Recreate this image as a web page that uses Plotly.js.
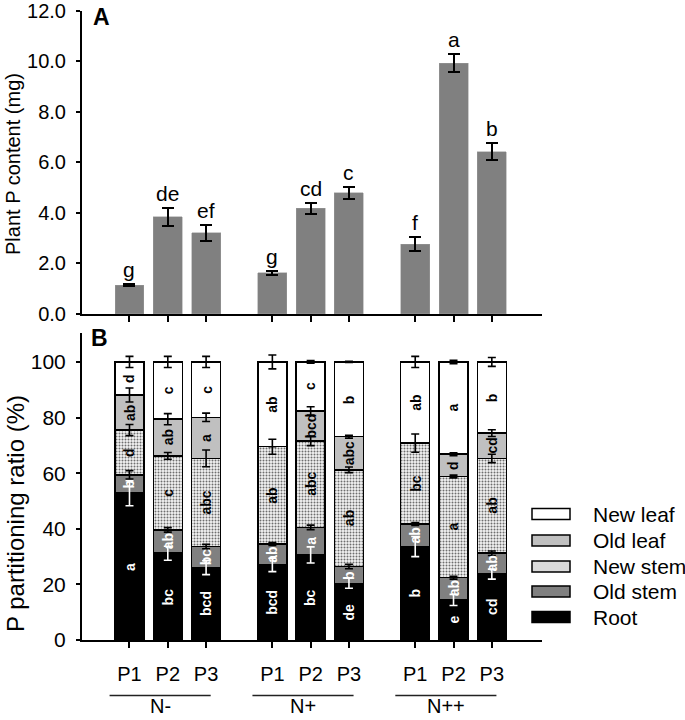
<!DOCTYPE html>
<html>
<head>
<meta charset="utf-8">
<script src="https://cdn.plot.ly/plotly-3.0.1.min.js"></script>
<style>
  html, body { margin: 0; padding: 0; background: #fff; }
  #chart { width: 685px; height: 720px; }
</style>
</head>
<body>
<div id="chart"></div>
<script>
// ---------------- data ----------------
const groups = ['N-', 'N+', 'N++'];
const pLevels = ['P1', 'P2', 'P3'];

// Panel A: plant P content (mg), order: N- P1..P3, N+ P1..P3, N++ P1..P3
const contentA = [1.13, 3.84, 3.21, 1.63, 4.18, 4.79, 2.76, 9.92, 6.42];
const contentErr = [0.04, 0.35, 0.31, 0.08, 0.22, 0.23, 0.27, 0.36, 0.34];
const contentLetters = ['g', 'de', 'ef', 'g', 'cd', 'c', 'f', 'a', 'b'];

// Panel B: P partitioning ratio (%)
const rootPct     = [52.8, 31.2, 26.0, 27.0, 30.6, 20.4, 33.6, 14.4, 23.7];
const oldStemPct  = [6.6, 8.4, 7.6, 7.5, 9.9, 6.0, 8.1, 8.0, 7.5];
const newStemPct  = [16.1, 26.6, 31.7, 35.0, 31.1, 34.8, 29.1, 36.4, 34.1];
const oldLeafPct  = [12.6, 13.2, 14.8, 0.0, 10.8, 11.9, 0.0, 8.0, 9.1];
const newLeafPct  = [11.9, 20.6, 19.9, 30.5, 17.6, 26.9, 29.2, 33.2, 25.6];

const rootErr     = [4.5, 2.5, 2.5, 2.4, 2.9, 1.8, 3.6, 2.0, 1.8];
const oldStemErr  = [1.5, 0.8, 0.8, 0.5, 0.8, 0.8, 0.5, 0.5, 0.8];
const newStemErr  = [2.0, 1.2, 3.0, 2.7, 1.7, 1.0, 3.3, 0.5, 1.5];
const oldLeafErr  = [2.5, 2.0, 1.5, 0.0, 1.5, 0.5, 0.0, 0.5, 1.2];
const newLeafErr  = [2.0, 2.0, 2.0, 2.5, 0.5, 0.2, 2.0, 0.6, 1.6];

const rootLetters    = ['a', 'bc', 'bcd', 'bcd', 'bc', 'de', 'b', 'e', 'cd'];
const oldStemLetters = ['b', 'ab', 'bc', 'ab', 'a', 'b', 'ab', 'ab', 'ab'];
const newStemLetters = ['d', 'c', 'abc', 'ab', 'abc', 'ab', 'bc', 'a', 'ab'];
const oldLeafLetters = ['ab', 'ab', 'a', '', 'bcd', 'abc', '', 'd', 'cd'];
const newLeafLetters = ['d', 'c', 'c', 'ab', 'c', 'b', 'ab', 'a', 'b'];

const partNames = ['Root', 'Old stem', 'New stem', 'Old leaf', 'New leaf'];

// ---------------- layout helpers ----------------
const W = 685, H = 720;
const px = v => v / W;
const py = v => 1 - v / H;
const FONT = 'Liberation Sans, Arial, Helvetica, sans-serif';

const groupStride = 3.73;
const xPos = [];
const xText = [];
groups.forEach((g, gi) => pLevels.forEach((p, pi) => { xPos.push(gi * groupStride + pi); xText.push(p); }));
const barW = 0.757;
const xRange = [-1.24, 10.77];
const xDomain = [px(82), px(542)];

const parts = [
  { name: partNames[0], vals: rootPct,    err: rootErr,    letters: rootLetters,    color: '#000000', txt: '#ffffff', ecol: '#ffffff' },
  { name: partNames[1], vals: oldStemPct, err: oldStemErr, letters: oldStemLetters, color: '#808080', txt: '#ffffff', ecol: '#000000' },
  { name: partNames[2], vals: newStemPct, err: newStemErr, letters: newStemLetters, color: '#e6e6e6', txt: '#000000', ecol: '#000000', pattern: true },
  { name: partNames[3], vals: oldLeafPct, err: oldLeafErr, letters: oldLeafLetters, color: '#c0c0c0', txt: '#000000', ecol: '#000000' },
  { name: partNames[4], vals: newLeafPct, err: newLeafErr, letters: newLeafLetters, color: '#ffffff', txt: '#000000', ecol: '#000000' }
];

const traces = [];
// Panel A
traces.push({
  type: 'bar', x: xPos, y: contentA, width: barW, xaxis: 'x', yaxis: 'y',
  name: 'Plant P content',
  marker: { color: '#808080', line: { color: '#9a9a9a', width: 0.5 } },
  error_y: { type: 'data', array: contentErr, visible: true, color: '#000', thickness: 2, width: 6 },
  hoverinfo: 'x+y'
});

// Panel B stacked bars
const annotations = [];
const cum = xPos.map(() => 0);
const errTraces = [];
parts.forEach(pt => {
  const marker = { color: pt.color, line: { color: '#000', width: 1.5 } };
  if (pt.pattern) {
    marker.pattern = { shape: '.', fgcolor: '#6e6e6e', bgcolor: '#f4f4f4', size: 3, solidity: 0.35, fillmode: 'replace' };
  }
  traces.push({
    type: 'bar', x: xPos, y: pt.vals, width: barW, xaxis: 'x2', yaxis: 'y2',
    name: pt.name, marker: marker, hoverinfo: 'name+y'
  });
  const tops = [];
  pt.vals.forEach((v, i) => {
    const mid = cum[i] + v / 2;
    cum[i] += v;
    tops.push(cum[i]);
    if (pt.letters[i]) {
      annotations.push({
        xref: 'x2', yref: 'y2', x: xPos[i], y: mid, text: pt.letters[i],
        showarrow: false, textangle: -90, xanchor: 'center', yanchor: 'middle',
        font: { family: FONT, size: 14, color: pt.txt, weight: 'bold' }
      });
    }
  });
  errTraces.push({
    type: 'scatter', mode: 'markers', x: xPos, y: tops, xaxis: 'x2', yaxis: 'y2',
    marker: { size: 1, opacity: 0 }, hoverinfo: 'skip', showlegend: false,
    error_y: { type: 'data', array: pt.err, visible: true, color: pt.ecol, thickness: 1.6, width: 4 }
  });
});
errTraces.forEach(t => traces.push(t));

// Panel A letters
contentA.forEach((v, i) => {
  annotations.push({
    xref: 'x', yref: 'y', x: xPos[i], y: v + contentErr[i], yshift: 1, text: contentLetters[i],
    showarrow: false, xanchor: 'center', yanchor: 'bottom',
    font: { family: FONT, size: 21, color: '#000' }
  });
});

// Axis titles and panel labels
annotations.push({ xref: 'paper', yref: 'paper', x: px(13), y: py(164), text: 'Plant P content (mg)',
  textangle: -90, showarrow: false, xanchor: 'center', yanchor: 'middle', font: { family: FONT, size: 20, color: '#000' } });
annotations.push({ xref: 'paper', yref: 'paper', x: px(15), y: py(514), text: 'P partitioning ratio (%)',
  textangle: -90, showarrow: false, xanchor: 'center', yanchor: 'middle', font: { family: FONT, size: 24, color: '#000' } });
annotations.push({ xref: 'paper', yref: 'paper', x: px(101), y: py(17), text: '<b>A</b>',
  showarrow: false, xanchor: 'center', yanchor: 'middle', font: { family: FONT, size: 23, color: '#000' } });
annotations.push({ xref: 'paper', yref: 'paper', x: px(100), y: py(338), text: '<b>B</b>',
  showarrow: false, xanchor: 'center', yanchor: 'middle', font: { family: FONT, size: 23, color: '#000' } });

// Group labels and underlines
const shapes = [];
groups.forEach((g, gi) => {
  shapes.push({ type: 'line', xref: 'x2', yref: 'paper', x0: gi * groupStride - 0.52, x1: gi * groupStride + 2.12,
    y0: py(695.5), y1: py(695.5), line: { color: '#222', width: 1.5 } });
  annotations.push({ xref: 'x2', yref: 'paper', x: gi * groupStride + 0.8, y: py(719), text: g,
    showarrow: false, xanchor: 'center', yanchor: 'bottom', font: { family: FONT, size: 20, color: '#000' } });
});

// Legend (drawn manually: wide boxes like the original)
const legendOrder = [4, 3, 2, 1, 0];
const legendRows = [514, 540.5, 566.5, 591.5, 617];
legendOrder.forEach((pi, r) => {
  const pt = parts[pi];
  const fill = pt.pattern ? '#dadada' : pt.color;
  shapes.push({ type: 'rect', xref: 'paper', yref: 'paper', x0: px(532), x1: px(570),
    y0: py(legendRows[r] + 5.5), y1: py(legendRows[r] - 5.5), fillcolor: fill, line: { color: '#000', width: 1.5 } });
  annotations.push({ xref: 'paper', yref: 'paper', x: px(591), y: py(legendRows[r]), text: pt.name,
    showarrow: false, xanchor: 'left', yanchor: 'middle', font: { family: FONT, size: 21, color: '#000' } });
});

const axCommon = { showgrid: false, zeroline: false, showline: true, linecolor: '#000', linewidth: 2,
  ticks: 'outside', tickcolor: '#000', tickwidth: 2, ticklabeloverflow: 'allow' };

const layout = {
  width: W, height: H, margin: { l: 0, r: 0, t: 0, b: 0 },
  paper_bgcolor: '#fff', plot_bgcolor: 'rgba(0,0,0,0)',
  font: { family: FONT, color: '#000', size: 20 },
  showlegend: false, barmode: 'stack',
  xaxis: Object.assign({}, axCommon, { domain: xDomain, range: xRange, anchor: 'y', tickvals: xPos, showticklabels: false, ticklen: 6 }),
  yaxis: Object.assign({}, axCommon, { domain: [py(314), py(10.7)], range: [0, 12], anchor: 'x',
    tickvals: [0, 2, 4, 6, 8, 10, 12], tickformat: '.1f', ticklen: 4, ticklabelstandoff: 6, tickfont: { size: 20 } }),
  xaxis2: Object.assign({}, axCommon, { domain: xDomain, range: xRange, anchor: 'y2', tickvals: xPos, ticktext: xText,
    ticklen: 6, ticklabelstandoff: 9, tickfont: { size: 20 } }),
  yaxis2: Object.assign({}, axCommon, { domain: [py(640), py(333)], range: [0, 110.4], anchor: 'x2',
    tickvals: [0, 20, 40, 60, 80, 100], ticklen: 4, ticklabelstandoff: 6, tickfont: { size: 21 } }),
  annotations: annotations,
  shapes: shapes
};

Plotly.newPlot('chart', traces, layout, { displayModeBar: false, staticPlot: true });
</script>
</body>
</html>
